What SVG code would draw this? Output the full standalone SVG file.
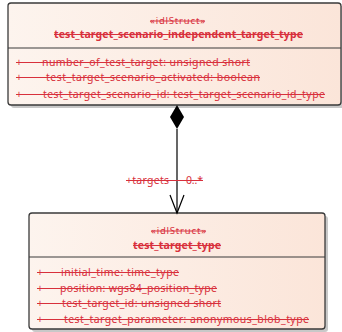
<svg xmlns="http://www.w3.org/2000/svg" width="342" height="332" viewBox="0 0 342 332">
<defs>
<linearGradient id="fillg" x1="0" y1="0" x2="1" y2="0">
<stop offset="0" stop-color="#fdf4ee"/>
<stop offset="1" stop-color="#fbe5d9"/>
</linearGradient>
</defs>
<style>
.box{fill:url(#fillg);stroke:#3a3a3a;stroke-width:1.3}
.shadow{fill:#c8c8c8}
.sep{stroke:#3a3a3a;stroke-width:1.2}
.t{font-family:"Noto Sans","Liberation Sans",sans-serif;font-size:10.5px;fill:#d8303c}
.st{font-size:9.5px}
.nm{font-weight:bold}
.strike{stroke:#d8303c;stroke-width:1}
.conn{stroke:#000;stroke-width:1.2;fill:none}
</style>
<g id="node-independent">
<rect class="shadow" x="11" y="6" width="333" height="102" rx="3"/>
<rect class="box" x="8" y="3" width="333" height="102" rx="3"/>
<line class="sep" x1="8" y1="48" x2="341" y2="48"/>
<text class="t st" x="150" y="24" textLength="55" lengthAdjust="spacing">«idlStruct»</text>
<line class="strike" x1="150" y1="21" x2="205" y2="21"/>
<text class="t nm" x="54" y="38" textLength="249" lengthAdjust="spacing">test_target_scenario_independent_target_type</text>
<line class="strike" x1="54" y1="34.5" x2="303" y2="34.5"/>
<text class="t" x="16" y="66">+</text>
<text class="t" x="42" y="66" textLength="208" lengthAdjust="spacing">number_of_test_target: unsigned short</text>
<line class="strike" x1="16" y1="62.5" x2="250" y2="62.5"/>
<text class="t" x="16" y="81">+</text>
<text class="t" x="46" y="81" textLength="214" lengthAdjust="spacing">test_target_scenario_activated: boolean</text>
<line class="strike" x1="16" y1="77.5" x2="260" y2="77.5"/>
<text class="t" x="16" y="98">+</text>
<text class="t" x="43" y="98" textLength="282" lengthAdjust="spacing">test_target_scenario_id: test_target_scenario_id_type</text>
<line class="strike" x1="16" y1="94.5" x2="325" y2="94.5"/>
</g>
<g id="node-test-target-type">
<rect class="shadow" x="32" y="216" width="296" height="116" rx="3"/>
<rect class="box" x="29" y="213" width="296" height="116" rx="3"/>
<line class="sep" x1="29" y1="257" x2="325" y2="257"/>
<text class="t st" x="151" y="234" textLength="55" lengthAdjust="spacing">«idlStruct»</text>
<line class="strike" x1="151" y1="231" x2="206" y2="231"/>
<text class="t nm" x="133" y="249" textLength="88" lengthAdjust="spacing">test_target_type</text>
<line class="strike" x1="133" y1="245.5" x2="221" y2="245.5"/>
<text class="t" x="37" y="276">+</text>
<text class="t" x="61" y="276" textLength="118" lengthAdjust="spacing">initial_time: time_type</text>
<line class="strike" x1="37" y1="272.5" x2="179" y2="272.5"/>
<text class="t" x="37" y="292">+</text>
<text class="t" x="60" y="292" textLength="157" lengthAdjust="spacing">position: wgs84_position_type</text>
<line class="strike" x1="37" y1="288.5" x2="217" y2="288.5"/>
<text class="t" x="37" y="307">+</text>
<text class="t" x="62" y="307" textLength="159" lengthAdjust="spacing">test_target_id: unsigned short</text>
<line class="strike" x1="37" y1="303.5" x2="221" y2="303.5"/>
<text class="t" x="37" y="323">+</text>
<text class="t" x="64" y="323" textLength="245" lengthAdjust="spacing">test_target_parameter: anonymous_blob_type</text>
<line class="strike" x1="37" y1="319.5" x2="309" y2="319.5"/>
</g>
<g id="connectors">
<line class="conn" x1="177" y1="129" x2="177" y2="213"/>
<polygon points="177,105 184,117 177,129 170,117" fill="#000"/>
<polyline class="conn" points="170,195 177,213 184,195"/>
<text class="t" x="126" y="184" textLength="43" lengthAdjust="spacing">+targets</text>
<text class="t" x="186" y="184" textLength="17" lengthAdjust="spacing">0..*</text>
<line class="strike" x1="126" y1="180.5" x2="203" y2="180.5"/>
</g>
</svg>
